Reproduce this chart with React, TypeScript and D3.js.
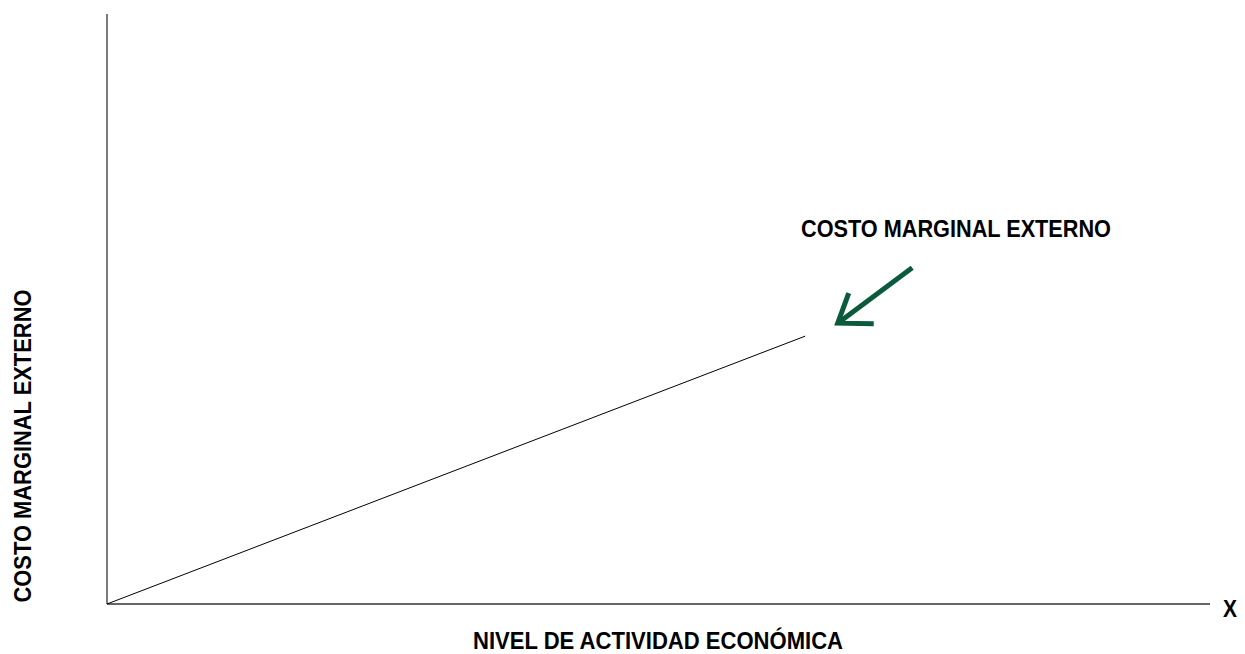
import React from "react";
import * as d3 from "d3";

const xDomain = [0, 10];
const yDomain = [0, 10];
const curveX = [0, 6.33];
const curveY = [0, 4.54];
const arrowTail = [7.3, 5.7];
const arrowTip = [6.625, 4.76];
const curveLabel = "COSTO MARGINAL EXTERNO";
const yAxisLabel = "COSTO MARGINAL EXTERNO";
const xAxisLabel = "NIVEL DE ACTIVIDAD ECONÓMICA";
const xEndLabel = "X";

const W = 1245;
const H = 654;
const FONT = "'Liberation Sans Narrow', 'Arial Narrow', 'Liberation Sans', Arial, sans-serif";

export default function App() {
  const x = d3.scaleLinear().domain(xDomain).range([107, 1210]);
  const y = d3.scaleLinear().domain(yDomain).range([604, 14]);
  const line = d3
    .line<number>()
    .x((_, i) => x(curveX[i]))
    .y((_, i) => y(curveY[i]));
  const tx = x(arrowTail[0]);
  const ty = y(arrowTail[1]);
  const hx = x(arrowTip[0]);
  const hy = y(arrowTip[1]);
  const green = "#0b5a3c";
  return (
    <svg
      width={W}
      height={H}
      style={{ position: "absolute", left: 0, top: 0 }}
    >
      <rect width={W} height={H} fill="#fff" />
      <line x1={x(0)} y1={y(0)} x2={x(0)} y2={y(10)} stroke="#333" strokeWidth={1.3} />
      <line x1={x(0)} y1={y(0)} x2={x(10)} y2={y(0)} stroke="#333" strokeWidth={1.3} />
      <path d={line(curveX) || ""} fill="none" stroke="#000" strokeWidth={1} />
      <line x1={tx} y1={ty} x2={hx + 2} y2={hy - 1.5} stroke={green} strokeWidth={5} />
      <polyline
        points={`${hx + 11},${hy - 30} ${hx},${hy} ${hx + 36},${hy + 0.5}`}
        fill="none"
        stroke={green}
        strokeWidth={5}
        strokeLinejoin="miter"
      />
      <text
        x={956}
        y={237}
        textAnchor="middle"
        fontFamily={FONT}
        fontWeight="bold"
        fontSize={23.5}
        textLength={310}
        lengthAdjust="spacingAndGlyphs"
        fill="#000"
      >
        {curveLabel}
      </text>
      <text
        x={1230}
        y={617}
        textAnchor="middle"
        fontFamily={FONT}
        fontWeight="bold"
        fontSize={23.5}
        textLength={14}
        lengthAdjust="spacingAndGlyphs"
        fill="#000"
      >
        {xEndLabel}
      </text>
      <text
        x={658}
        y={649}
        textAnchor="middle"
        fontFamily={FONT}
        fontWeight="bold"
        fontSize={23}
        textLength={370}
        lengthAdjust="spacingAndGlyphs"
        fill="#000"
      >
        {xAxisLabel}
      </text>
      <text
        transform={`translate(31,446) rotate(-90)`}
        textAnchor="middle"
        fontFamily={FONT}
        fontWeight="bold"
        fontSize={23.5}
        textLength={313}
        lengthAdjust="spacingAndGlyphs"
        fill="#000"
      >
        {yAxisLabel}
      </text>
    </svg>
  );
}
